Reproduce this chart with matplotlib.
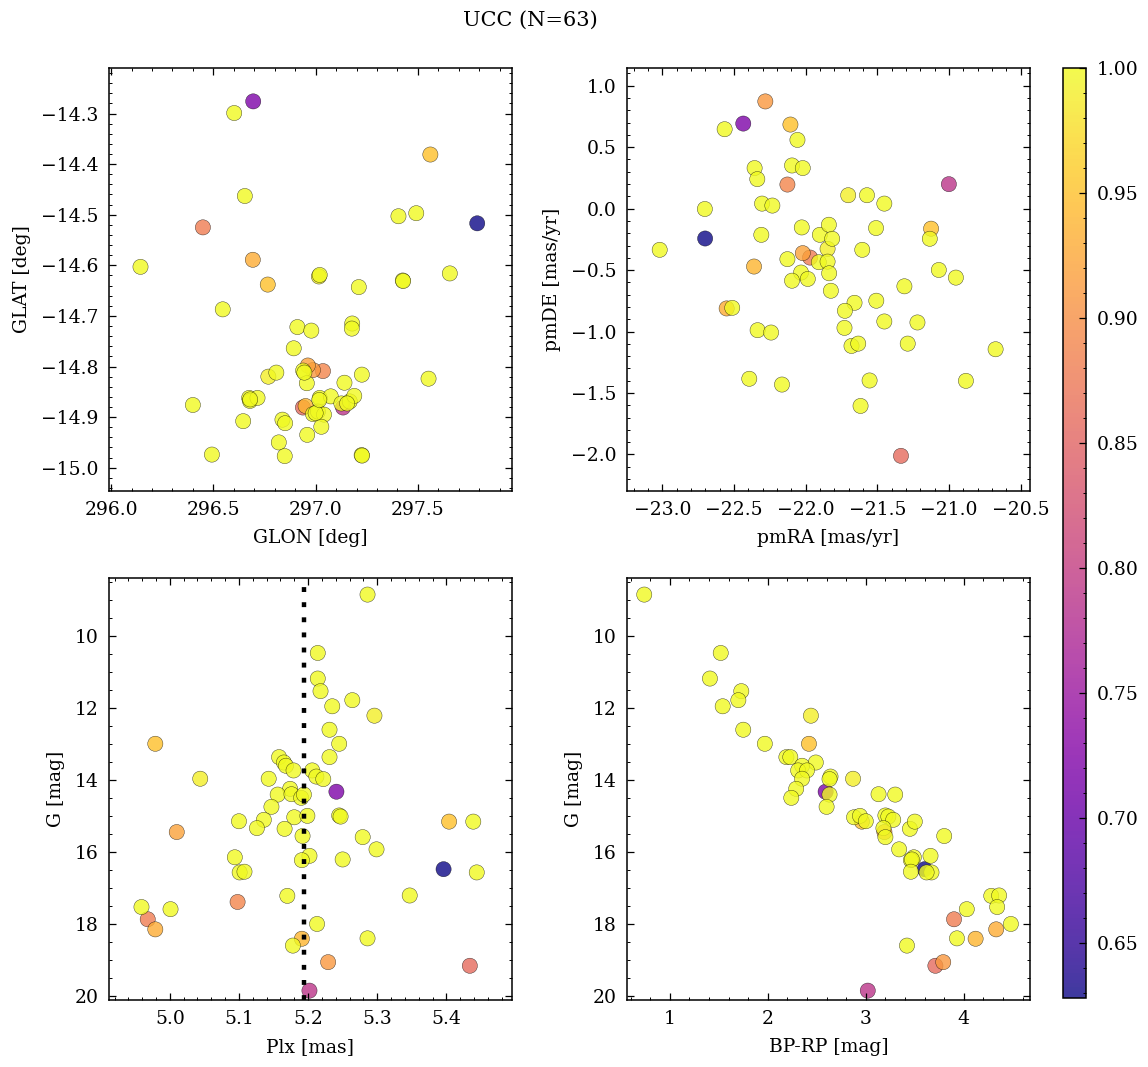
import numpy as np
import matplotlib
matplotlib.use("Agg")
import matplotlib.pyplot as plt

# per-star values (63 members)
glon = [296.602, 296.654, 297.405, 297.492, 296.144, 297.020, 297.016, 297.211, 297.426, 297.561,
        297.428, 297.656, 296.546, 296.911, 296.979, 297.179, 297.177, 296.893, 296.939, 296.769,
        296.808, 296.695, 296.957, 297.141, 297.226, 297.552, 296.400, 296.675, 296.679, 296.716,
        297.020, 297.074, 297.126, 297.167, 297.189, 296.766, 296.987, 296.962, 297.011, 297.041,
        296.646, 296.838, 296.851, 297.028, 296.959, 297.790, 296.820, 296.493, 296.849, 297.225,
        297.227, 297.036, 297.000, 297.154, 296.449, 296.945, 296.693, 296.951, 297.018, 296.680,
        296.987, 296.938, 297.134]
glat = [-14.299, -14.463, -14.503, -14.497, -14.603, -14.619, -14.622, -14.643, -14.630, -14.381,
        -14.631, -14.616, -14.687, -14.722, -14.729, -14.715, -14.725, -14.764, -14.808, -14.820,
        -14.812, -14.276, -14.833, -14.832, -14.816, -14.824, -14.876, -14.862, -14.868, -14.862,
        -14.862, -14.859, -14.873, -14.869, -14.858, -14.638, -14.894, -14.798, -14.889, -14.895,
        -14.908, -14.905, -14.912, -14.919, -14.935, -14.517, -14.950, -14.974, -14.977, -14.975,
        -14.976, -14.809, -14.892, -14.873, -14.525, -14.812, -14.589, -14.878, -14.866, -14.865,
        -14.807, -14.881, -14.881]
pmra = [-22.566, -22.058, -22.357, -22.338, -22.096, -22.021, -21.704, -21.573, -21.452, -22.107,
        -22.704, -22.305, -22.233, -23.019, -22.310, -22.028, -21.902, -21.839, -21.816, -21.848,
        -21.510, -22.436, -21.135, -21.606, -22.128, -21.909, -21.848, -21.837, -22.033, -22.096,
        -21.986, -21.072, -20.953, -21.825, -21.312, -21.126, -22.513, -22.021, -21.660, -21.508,
        -21.727, -21.730, -21.452, -21.221, -22.336, -22.702, -22.242, -21.681, -21.634, -21.289,
        -20.676, -22.128, -22.394, -22.166, -21.970, -21.555, -22.552, -22.361, -20.883, -21.618,
        -22.282, -21.336, -21.002]
pmde = [0.646, 0.559, 0.330, 0.240, 0.351, 0.330, 0.109, 0.109, 0.041, 0.684,
        -0.003, 0.041, 0.025, -0.335, -0.213, -0.153, -0.213, -0.131, -0.245, -0.327,
        -0.158, 0.692, -0.245, -0.335, -0.411, -0.436, -0.431, -0.526, -0.520, -0.586,
        -0.572, -0.499, -0.561, -0.668, -0.632, -0.163, -0.807, -0.362, -0.766, -0.749,
        -0.831, -0.970, -0.918, -0.926, -0.989, -0.243, -1.008, -1.117, -1.098, -1.098,
        -1.144, 0.196, -1.384, -1.431, -0.398, -1.398, -0.812, -0.471, -1.401, -1.605,
        0.872, -2.011, 0.199]
plx = [5.286, 5.214, 5.214, 5.218, 5.264, 5.235, 5.296, 5.231, 5.245, 4.979,
       5.231, 5.158, 5.165, 5.168, 5.179, 5.206, 5.212, 5.222, 5.143, 5.044,
       5.174, 5.241, 5.156, 5.176, 5.190, 5.194, 5.147, 5.180, 5.199, 5.245,
       5.247, 5.100, 5.136, 5.126, 5.166, 5.404, 5.439, 5.010, 5.192, 5.279,
       5.299, 5.094, 5.202, 5.191, 5.250, 5.396, 5.101, 5.108, 5.444, 5.170,
       5.347, 5.098, 4.959, 5.001, 4.968, 5.213, 4.979, 5.191, 5.286, 5.178,
       5.229, 5.434, 5.202]
gmag = [8.86, 10.48, 11.19, 11.54, 11.79, 11.96, 12.22, 12.61, 13.00, 13.00,
        13.37, 13.37, 13.52, 13.61, 13.74, 13.74, 13.91, 13.98, 13.97, 13.97,
        14.25, 14.33, 14.41, 14.40, 14.50, 14.41, 14.75, 15.04, 15.00, 14.99,
        15.02, 15.15, 15.11, 15.34, 15.36, 15.16, 15.16, 15.45, 15.56, 15.59,
        15.93, 16.15, 16.11, 16.23, 16.21, 16.48, 16.57, 16.55, 16.57, 17.22,
        17.21, 17.39, 17.53, 17.59, 17.87, 18.00, 18.15, 18.41, 18.40, 18.60,
        19.06, 19.16, 19.85]
bprp = [0.74, 1.52, 1.41, 1.73, 1.70, 1.54, 2.44, 1.75, 1.97, 2.42,
        2.19, 2.23, 2.49, 2.35, 2.31, 2.40, 2.64, 2.63, 2.35, 2.87,
        2.29, 2.59, 2.63, 3.13, 2.24, 3.30, 2.60, 2.88, 2.94, 3.20,
        3.23, 3.00, 3.28, 3.18, 3.45, 2.96, 3.50, 3.19, 3.80, 3.20,
        3.34, 3.49, 3.66, 3.46, 3.47, 3.60, 3.67, 3.46, 3.62, 4.28,
        4.36, np.nan, 4.34, 4.03, 3.90, 4.48, 4.33, 4.12, 3.93, 3.42,
        3.79, 3.71, 3.02]
prob = [1.00, 1.00, 1.00, 1.00, 1.00, 1.00, 0.99, 1.00, 1.00, 0.95,
        1.00, 1.00, 1.00, 1.00, 1.00, 1.00, 1.00, 1.00, 1.00, 0.99,
        1.00, 0.72, 1.00, 1.00, 1.00, 1.00, 1.00, 1.00, 1.00, 1.00,
        1.00, 1.00, 1.00, 1.00, 1.00, 0.95, 1.00, 0.92, 1.00, 1.00,
        1.00, 1.00, 1.00, 1.00, 1.00, 0.628, 1.00, 1.00, 1.00, 1.00,
        1.00, 0.89, 1.00, 1.00, 0.88, 1.00, 0.93, 0.94, 1.00, 1.00,
        0.91, 0.86, 0.79]

plt.rcParams.update({
    "font.family": "DejaVu Serif",
    "font.size": 13.5,
    "axes.linewidth": 1.1,
    "axes.labelpad": 7,
    "xtick.direction": "in", "ytick.direction": "in",
    "xtick.top": True, "ytick.right": True,
    "xtick.minor.visible": True, "ytick.minor.visible": True,
    "xtick.major.size": 5, "ytick.major.size": 5,
    "xtick.minor.size": 2.5, "ytick.minor.size": 2.5,
    "xtick.major.width": 0.9, "ytick.major.width": 0.9,
    "xtick.minor.width": 0.7, "ytick.minor.width": 0.7,
    "xtick.major.pad": 7.5, "ytick.major.pad": 7.5,
})

order = np.argsort(prob, kind="stable")
def arr(v):
    return np.asarray(v, dtype=float)[order]

x_glon, y_glat = arr(glon), arr(glat)
x_pmra, y_pmde = arr(pmra), arr(pmde)
x_plx, y_g, x_bprp, c = arr(plx), arr(gmag), arr(bprp), arr(prob)

fig = plt.figure(figsize=(11.48, 10.67), dpi=100)
W, H = 1148, 1067
def box(l, t, r, b):
    return [l / W, 1 - b / H, (r - l) / W, (b - t) / H]

ax1 = fig.add_axes(box(109, 68, 512, 491))
ax2 = fig.add_axes(box(627, 68, 1030, 491))
ax3 = fig.add_axes(box(109, 578, 512, 1000))
ax4 = fig.add_axes(box(627, 578, 1030, 1000))
cax = fig.add_axes(box(1063, 68, 1086, 998))

kw = dict(c=c, cmap="plasma", vmin=min(prob), vmax=1.0, s=120,
          alpha=0.8, edgecolors="k", linewidths=0.3)

sc = ax1.scatter(x_glon, y_glat, **kw)
ax1.set_xlim(295.99, 297.96)
ax1.set_ylim(-15.046, -14.21)
ax1.set_xlabel("GLON [deg]")
ax1.set_ylabel("GLAT [deg]")

ax2.scatter(x_pmra, y_pmde, **kw)
ax2.set_xlim(-23.247, -20.436)
ax2.set_ylim(-2.297, 1.144)
ax2.set_xlabel("pmRA [mas/yr]")
ax2.set_ylabel("pmDE [mas/yr]")

ax3.scatter(x_plx, y_g, **kw)
ax3.axvline(np.median(plx), color="k", lw=3.2, ls=(0, (1.1, 2.3)), zorder=5)
ax3.set_xlim(4.912, 5.495)
ax3.set_ylim(20.11, 8.40)
ax3.set_xlabel("Plx [mas]")
ax3.set_ylabel("G [mag]")

ax4.scatter(x_bprp, y_g, **kw)
ax4.set_xlim(0.564, 4.675)
ax4.set_ylim(20.11, 8.40)
ax4.set_xlabel("BP-RP [mag]")
ax4.set_ylabel("G [mag]")

cb = fig.colorbar(sc, cax=cax)
cb.set_ticks([0.65, 0.70, 0.75, 0.80, 0.85, 0.90, 0.95, 1.00])
cb.minorticks_on()
cax.tick_params(which="both", direction="in")

fig.text(0.462, 1 - 20 / H, "UCC (N=63)", ha="center", va="center", fontsize=15)

fig.savefig("out.png", dpi=100)
